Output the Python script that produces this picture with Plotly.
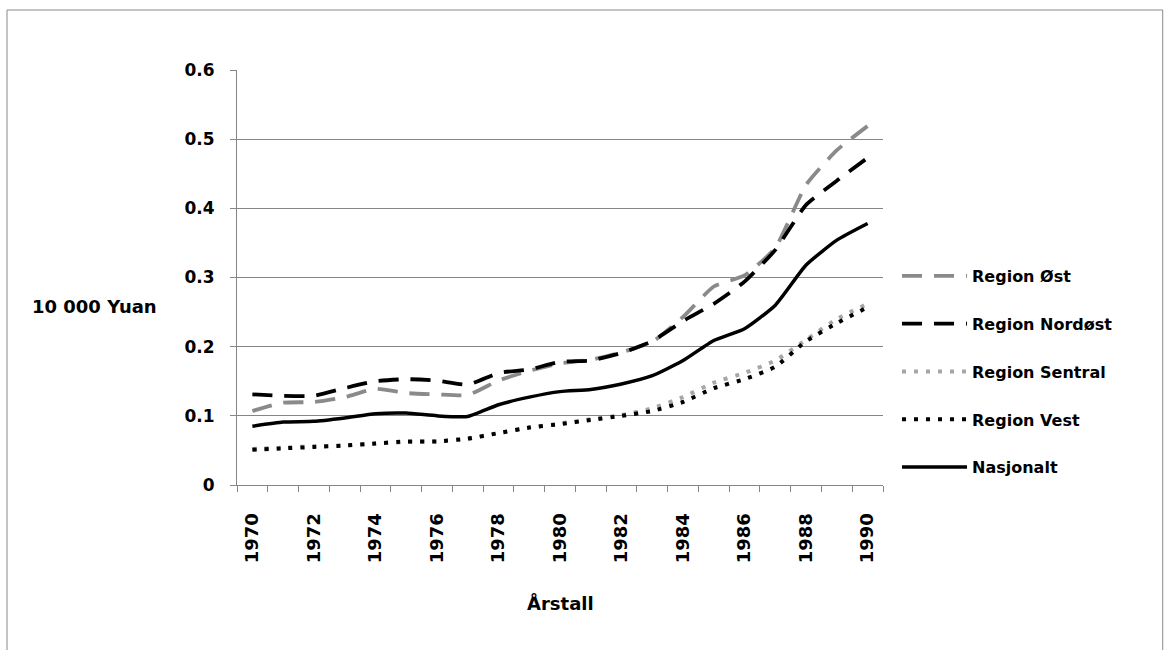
import plotly.graph_objects as go

years = list(range(1970, 1991))
tick_labels = [str(y) for y in range(1970, 1991, 2)]

region_ost = [0.107, 0.119, 0.120, 0.127, 0.139, 0.133, 0.131, 0.130, 0.151, 0.165, 0.176,
              0.181, 0.192, 0.207, 0.243, 0.287, 0.303, 0.343, 0.434, 0.484, 0.519]
region_nordost = [0.131, 0.129, 0.129, 0.140, 0.150, 0.153, 0.151, 0.145, 0.162, 0.167, 0.178,
                  0.180, 0.191, 0.208, 0.237, 0.262, 0.294, 0.340, 0.405, 0.440, 0.473]
region_sentral = [0.052, 0.054, 0.056, 0.057, 0.060, 0.062, 0.063, 0.067, 0.075, 0.083, 0.089,
                  0.095, 0.101, 0.111, 0.127, 0.148, 0.162, 0.180, 0.210, 0.240, 0.262]
region_vest = [0.051, 0.053, 0.055, 0.057, 0.060, 0.063, 0.063, 0.067, 0.075, 0.083, 0.088,
               0.094, 0.100, 0.107, 0.120, 0.140, 0.153, 0.171, 0.208, 0.234, 0.257]
nasjonalt = [0.085, 0.091, 0.092, 0.097, 0.103, 0.104, 0.100, 0.099, 0.116, 0.127, 0.135,
             0.138, 0.146, 0.158, 0.180, 0.209, 0.226, 0.260, 0.318, 0.354, 0.378]

series = [
    ("Region Øst", region_ost, "#8a8a8a", "20px,12px", 3.8),
    ("Region Nordøst", region_nordost, "#000000", "20px,12px", 3.8),
    ("Region Sentral", region_sentral, "#a6a6a6", "4px,8px", 4),
    ("Region Vest", region_vest, "#000000", "4px,8px", 4),
    ("Nasjonalt", nasjonalt, "#000000", "solid", 3.5),
]

FONT = "DejaVu Sans"

fig = go.Figure()
for i, (name, vals, color, dash, w) in enumerate(series):
    fig.add_trace(go.Scatter(
        x=years, y=vals, name=name, mode="lines",
        line=dict(color=color, dash=dash, width=w, shape="spline", smoothing=0.5),
        legendgroup=f"g{i}",
    ))

boundaries = [y - 0.5 for y in range(1970, 1992)]

fig.update_layout(
    width=1173, height=650,
    margin=dict(l=237, r=290, t=70, b=165),
    paper_bgcolor="white", plot_bgcolor="white",
    font=dict(family=FONT, size=15, color="#000000"),
    showlegend=True,
    legend=dict(
        x=1.0217, y=0.5446, xanchor="left", yanchor="top",
        traceorder="grouped", tracegroupgap=24,
        font=dict(family=FONT, size=16, color="#000000", weight="bold"),
        bgcolor="rgba(0,0,0,0)", itemwidth=65,
    ),
    xaxis=dict(
        range=[1969.5, 1990.5],
        tickmode="array", tickvals=[int(t) for t in tick_labels], ticktext=tick_labels,
        tickangle=-90, ticks="", ticklen=0, showgrid=False, ticklabelstandoff=20,
        tickfont=dict(family=FONT, size=18, weight="bold"),
        showline=True, linecolor="#868686", linewidth=1,
        minor=dict(tickmode="array", tickvals=boundaries, ticks="outside", ticklen=6,
                   tickcolor="#868686", tickwidth=1, showgrid=False),
        zeroline=False, fixedrange=True,
    ),
    yaxis=dict(
        range=[0, 0.6], tickmode="linear", tick0=0, dtick=0.1,
        tickformat="~g",
        ticks="outside", ticklen=6, tickcolor="#868686", ticklabelstandoff=12,
        showgrid=True, gridcolor="#868686", gridwidth=1,
        showline=True, linecolor="#868686", linewidth=1,
        tickfont=dict(family=FONT, size=17, weight="bold"),
        zeroline=False, fixedrange=True,
    ),
    annotations=[
        dict(text="Årstall", x=0.5, y=-0.284, xref="paper", yref="paper",
             showarrow=False, font=dict(family=FONT, size=18, weight="bold"),
             xanchor="center", yanchor="middle"),
        dict(text="10 000 Yuan", x=-0.22, y=0.429, xref="paper", yref="paper",
             showarrow=False, font=dict(family=FONT, size=18, weight="bold"),
             xanchor="center", yanchor="middle"),
    ],
    shapes=[
        dict(type="rect", xref="paper", yref="paper",
             x0=-0.356, x1=1.433, y0=-0.43, y1=1.1446,
             line=dict(color="#8a8a8a", width=1), layer="below"),
    ],
)

fig.write_html("out.html", config={"displayModeBar": False},
               post_script="document.body.style.margin='0px';")
